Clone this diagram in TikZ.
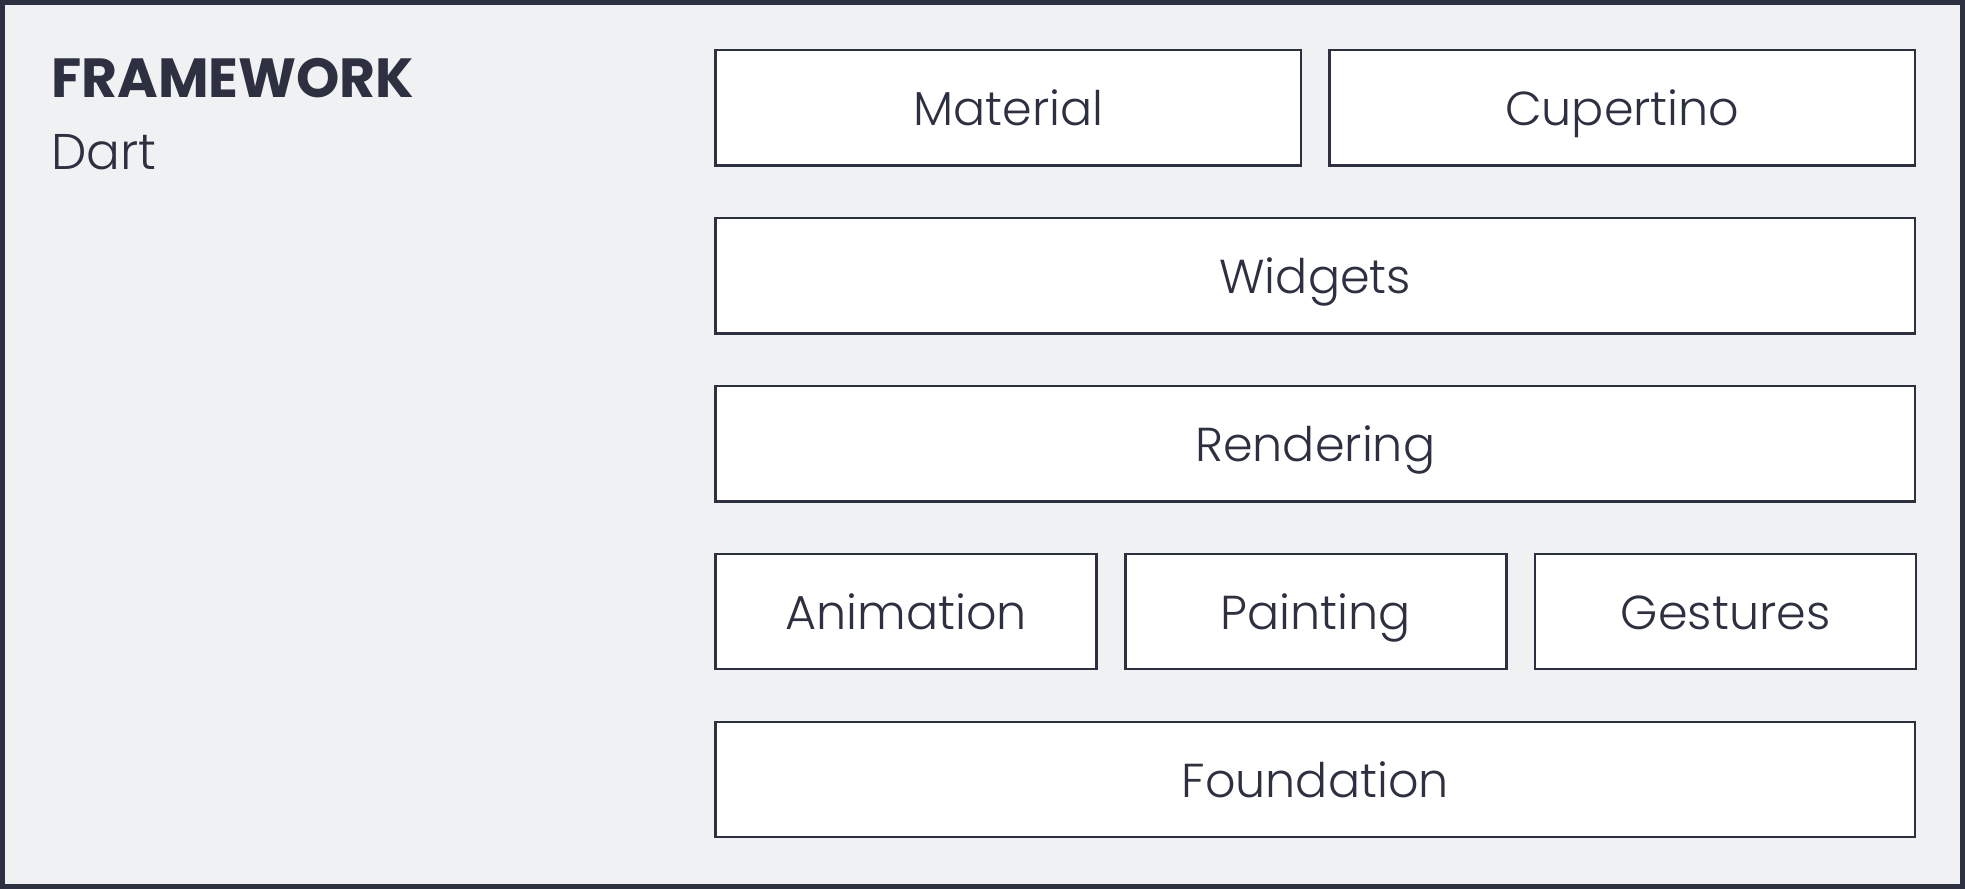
\documentclass[tikz,border=0pt]{standalone}
\usepackage{fontspec}
\setmainfont{Poppins}
\newfontfamily\labelfont{Poppins Light}
\usetikzlibrary{positioning}

\definecolor{ink}{HTML}{2D3040}
\definecolor{panel}{HTML}{F0F1F2}

\begin{document}
\begin{tikzpicture}[x=0.5pt, y=-0.5pt, node distance=20pt and 10.5pt,
    line width=1pt, every node/.style={text=ink}]

  \tikzstyle{layerbox}=[draw=ink, fill=white, minimum height=46pt, inner sep=0pt,
    text height=14pt, text depth=0pt, font=\labelfont\fontsize{19}{23}\selectfont]
  \tikzstyle{widebox}=[layerbox, minimum width=478.5pt]
  \tikzstyle{halfbox}=[layerbox, minimum width=233.5pt]
  \tikzstyle{thirdbox}=[layerbox, minimum width=152pt]

  \useasboundingbox (0,0) rectangle (1568,709);
  \fill[panel] (0,0) rectangle (1568,709);
  \draw[ink, line width=2pt] (2,2) rectangle (1566,707);

  \node[anchor=base west, inner sep=0pt, font=\fontsize{22}{26}\selectfont\bfseries] (TITLE) at (40,78) {FRAMEWORK};
  \node[anchor=base west, inner sep=0pt, font=\labelfont\fontsize{20}{24}\selectfont] (LANG) at (40,135) {Dart};

  \node[halfbox] (MAT) at (804.5,86) {Material};
  \node[halfbox, right=of MAT] (CUP) {Cupertino};
  \node[widebox, below=of MAT.south west, anchor=north west] (WID) {Widgets};
  \node[widebox, below=of WID] (REN) {Rendering};
  \node[thirdbox, below=of REN.south west, anchor=north west] (ANI) {Animation};
  \node[thirdbox, right=of ANI] (PAI) {Painting};
  \node[thirdbox, right=of PAI] (GES) {Gestures};
  \node[widebox, below=of ANI.south west, anchor=north west] (FOU) {Foundation};
\end{tikzpicture}
\end{document}
